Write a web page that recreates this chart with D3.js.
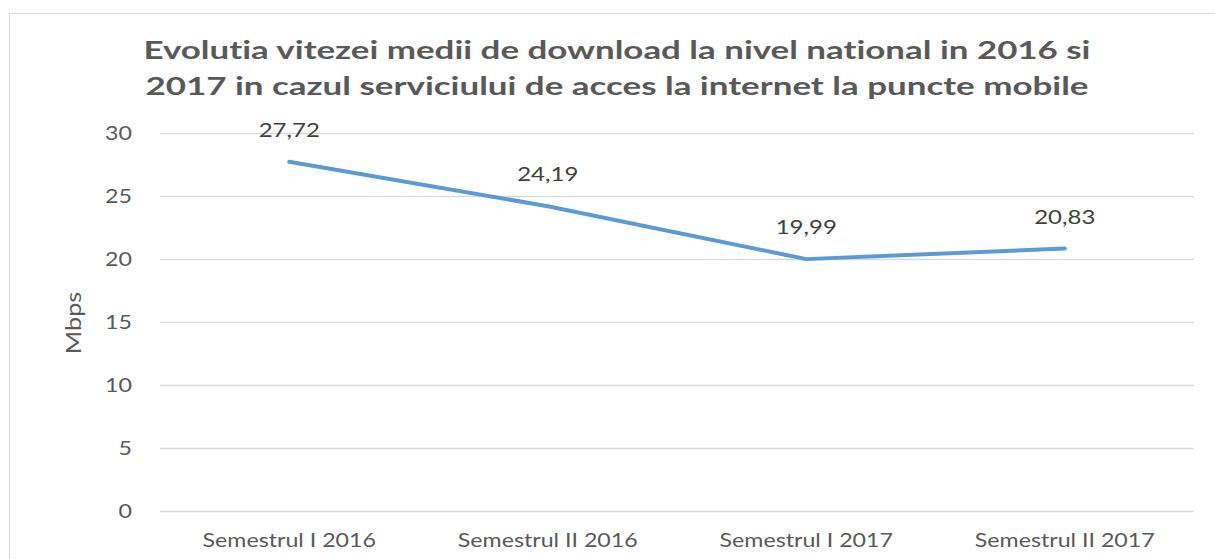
<!DOCTYPE html>
<html>
<head>
<meta charset="utf-8">
<script src="https://cdn.jsdelivr.net/npm/d3@7"></script>
<style>
  body { margin: 0; background: #fff; }
  svg { display: block; font-family: Lato, "Open Sans", sans-serif; font-variant-ligatures: none; }
</style>
</head>
<body>
<div id="chart"></div>
<script>
const CATEGORIES = ['Semestrul I 2016', 'Semestrul II 2016', 'Semestrul I 2017', 'Semestrul II 2017'];
const VALUES = [27.72, 24.19, 19.99, 20.83];
const Y_TICKS = [0, 5, 10, 15, 20, 25, 30];
const TITLE_LINES = [
  'Evolutia vitezei medii de download la nivel national in 2016  si',
  '2017  in cazul serviciului de acces la internet la puncte mobile',
];

const W = 1215, H = 559;
const margin = { top: 133, right: 21, bottom: 48, left: 160 };
const w = W - margin.left - margin.right;
const h = H - margin.top - margin.bottom;
const TEXT = '#595959';
const STRETCH = 1.22; // the reference text is drawn horizontally wide

// widen a text element to k times its natural width
function widen(sel, k) {
  sel.each(function () {
    const len = this.getComputedTextLength();
    d3.select(this).attr('textLength', len * k).attr('lengthAdjust', 'spacingAndGlyphs');
  });
}

const svg = d3.select('#chart').append('svg')
  .attr('width', W).attr('height', H);

// chart frame (left + top edges visible)
svg.append('rect')
  .attr('x', 9.5).attr('y', 13.5)
  .attr('width', W).attr('height', H)
  .attr('fill', 'none').attr('stroke', '#d9d9d9').attr('stroke-width', 1);

// title
const titleW = [947, 943];
svg.append('g').selectAll('text')
  .data(TITLE_LINES)
  .join('text')
  .attr('x', 617).attr('y', (d, i) => 59 + i * 36)
  .attr('text-anchor', 'middle')
  .attr('fill', TEXT).attr('font-size', 25).attr('font-weight', 'bold')
  .attr('textLength', (d, i) => titleW[i]).attr('lengthAdjust', 'spacingAndGlyphs')
  .text(d => d);

const g = svg.append('g').attr('transform', `translate(${margin.left},${margin.top})`);

const x = d3.scaleBand().domain(CATEGORIES).range([0, w]);
const y = d3.scaleLinear().domain([0, 30]).range([h, 0]);

// gridlines
g.append('g').selectAll('line')
  .data(Y_TICKS)
  .join('line')
  .attr('x1', 0).attr('x2', w)
  .attr('y1', d => Math.round(y(d)) + 0.5).attr('y2', d => Math.round(y(d)) + 0.5)
  .attr('stroke', '#d9d9d9').attr('stroke-width', 1.5);

// y axis labels
const yAxis = g.append('g')
  .call(d3.axisLeft(y).tickValues(Y_TICKS).tickSize(0).tickPadding(28));
yAxis.select('.domain').remove();
yAxis.selectAll('text').attr('fill', TEXT).attr('font-size', 19)
  .attr('font-family', 'Lato, sans-serif')
  .call(widen, STRETCH);

// x axis labels
const xAxis = g.append('g')
  .attr('transform', `translate(0,${h})`)
  .call(d3.axisBottom(x).tickSize(0).tickPadding(23));
xAxis.select('.domain').remove();
xAxis.selectAll('text').attr('fill', TEXT).attr('font-size', 19)
  .attr('font-family', 'Lato, sans-serif')
  .call(widen, STRETCH);

// y axis title
svg.append('text')
  .attr('transform', `translate(81,${margin.top + h / 2 + 1}) rotate(-90)`)
  .attr('text-anchor', 'middle')
  .attr('fill', TEXT).attr('font-size', 21)
  .text('Mbps')
  .call(widen, 1.2);

const cx = d => x(d.cat) + x.bandwidth() / 2;
const pts = CATEGORIES.map((cat, i) => ({ cat, v: VALUES[i] }));

// line
g.append('path')
  .datum(pts)
  .attr('fill', 'none')
  .attr('stroke', '#5b9bd5')
  .attr('stroke-width', 4)
  .attr('stroke-linecap', 'round')
  .attr('stroke-linejoin', 'round')
  .attr('d', d3.line().x(cx).y(d => y(d.v)));

// data labels
g.append('g').selectAll('text')
  .data(pts)
  .join('text')
  .attr('x', cx)
  .attr('y', d => y(d.v) - 25)
  .attr('text-anchor', 'middle')
  .attr('fill', '#404040').attr('font-size', 20)
  .text(d => d3.format('.2f')(d.v).replace('.', ','))
  .call(widen, 1.2);
</script>
</body>
</html>
